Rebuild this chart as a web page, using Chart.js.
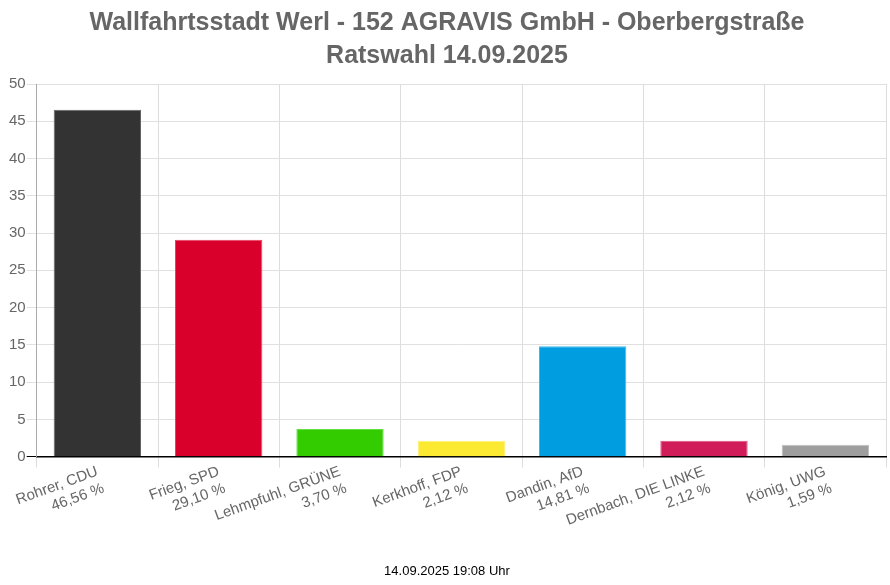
<!DOCTYPE html>
<html><head><meta charset="utf-8">
<script src="https://cdn.jsdelivr.net/npm/chart.js@4"></script>
<style>html,body{margin:0;padding:0;background:#fff}#w{width:890px;height:585px}</style>
</head><body><div id="w"><canvas id="c"></canvas></div>
<script>
const candidates = ["Rohrer, CDU","Frieg, SPD","Lehmpfuhl, GRÜNE","Kerkhoff, FDP","Dandin, AfD","Dernbach, DIE LINKE","König, UWG"];
const percentLabels = ["46,56 %","29,10 %","3,70 %","2,12 %","14,81 %","2,12 %","1,59 %"];
const values = [46.56,29.10,3.70,2.12,14.81,2.12,1.59];
const colors = ["#333333","#d9002b","#33cc00","#fbe932","#009ee0","#d01c58","#9e9e9e"];
const borders = ["#666666","#e64060","#66dd44","#fff07a","#40b6e8","#dd5080","#c0c0c0"];
const yTicks = {min:0,max:50,step:5};
const titleLines = ["Wallfahrtsstadt Werl - 152 AGRAVIS GmbH - Oberbergstraße","Ratswahl 14.09.2025"];
const footer = "14.09.2025 19:08 Uhr";

new Chart(document.getElementById('c'), {
  type:'bar',
  data:{
    labels: candidates.map((c,i)=>[c, percentLabels[i]]),
    datasets:[{data:values, backgroundColor:colors, borderColor:borders, borderWidth:1, categoryPercentage:0.72, barPercentage:1}]
  },
  options:{
    responsive:true, maintainAspectRatio:false, animation:false,
    layout:{padding:{left:8,right:4,top:0,bottom:6}},
    plugins:{
      legend:{display:false},
      tooltip:{enabled:false},
      title:{display:true, text:titleLines, color:'#666', font:{family:'Liberation Sans, Arial', size:25, weight:'bold', lineHeight:1.32}, padding:{top:7,bottom:11}},
      subtitle:{display:true, position:'bottom', text:footer, color:'#000', font:{family:'Liberation Sans, Arial', size:13}, padding:{top:22,bottom:0}}
    },
    scales:{
      x:{
        grid:{color:'#dddddd', offset:true, tickLength:11},
        border:{color:'#000', width:1.5},
        ticks:{color:'#666', font:{family:'Liberation Sans, Arial', size:15}, minRotation:20, maxRotation:20, autoSkip:false, padding:-5}
      },
      y:{
        min:yTicks.min, max:yTicks.max,
        grid:{color:(ctx)=>ctx.tick && ctx.tick.value===0 ? '#000' : '#e0e0e0', tickLength:10},
        border:{color:'#aaaaaa'},
        ticks:{stepSize:yTicks.step, color:'#666', font:{family:'Liberation Sans, Arial', size:15}, padding:1}
      }
    }
  }
});
</script></body></html>
